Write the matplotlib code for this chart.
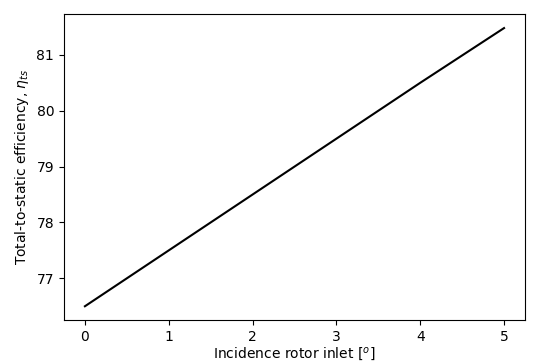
import numpy as np
import matplotlib
matplotlib.use("Agg")
import matplotlib.pyplot as plt

# Values
incidence = [0, 1, 2, 3, 4, 5]
efficiency = [76.5, 77.5, 78.5, 79.5, 80.5, 81.48]

fig = plt.figure(figsize=(5.33, 3.63), dpi=100)
ax = fig.add_axes([0.12, 0.118, 0.865, 0.843])
ax.plot(incidence, efficiency, color='k', lw=1.5)
ax.set_xticks([0, 1, 2, 3, 4, 5])
ax.set_yticks([77, 78, 79, 80, 81])
ax.set_xlabel(r"Incidence rotor inlet [$^o$]", labelpad=1.5)
ax.set_ylabel(r"Total-to-static efficiency, $\eta_{ts}$")
fig.savefig("out.png", dpi=100)
